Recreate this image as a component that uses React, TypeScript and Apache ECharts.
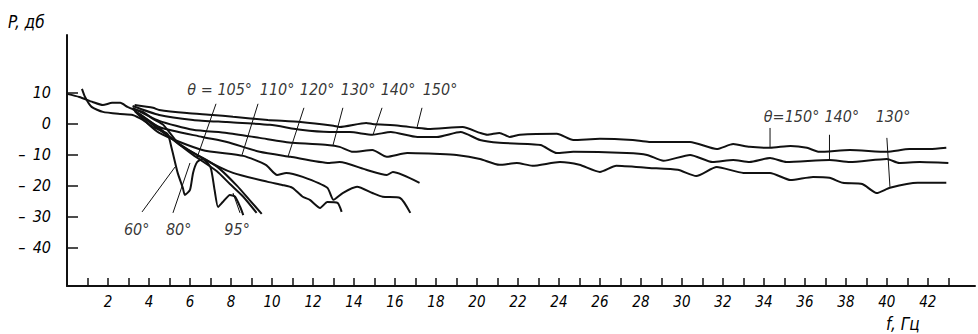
import React, { useEffect, useRef } from "react";
import * as echarts from "echarts";

// ---- axis ticks / labels ----
const xTickValues = [1, 2, 3, 4, 5, 6, 7, 8, 9, 10, 11, 12, 13, 14, 15, 16, 17, 18, 19, 20, 21, 22, 23, 24, 25, 26, 27, 28, 29, 30, 31, 32, 33, 34, 35, 36, 37, 38, 39, 40, 41, 42, 43];
const xLabelValues = [2, 4, 6, 8, 10, 12, 14, 16, 18, 20, 22, 24, 26, 28, 30, 32, 34, 36, 38, 40, 42];
const yTickValues = [-40, -30, -20, -10, 0, 10];

// ---- curves: [f (Hz), P (dB)] ----
const c150 = [[3.3, 6.1], [4.2, 5.2], [4.5, 4.5], [5.85, 3.5], [7.1, 2.9], [8.1, 2.3], [9.8, 1.3], [11.4, 0.6], [13.0, -0.6], [13.3, -1.0], [14.6, 0.3], [14.9, 0], [16.2, -0.6], [17.1, -1.3], [17.6, -1.6], [19.3, -1.0], [20.15, -2.9], [20.5, -3.5], [21.1, -2.9], [21.6, -4.2], [22.1, -3.5], [23.9, -3.2], [24.7, -5.2], [26.0, -4.8], [27.6, -5.2], [28.4, -5.8], [30.4, -5.8], [31.7, -8.1], [32.5, -6.5], [33.3, -7.4], [34.3, -7.7], [35.3, -7.1], [36.1, -7.7], [36.7, -9.0], [38.2, -8.4], [40.0, -9.0], [41.1, -8.1], [42.1, -8.1], [42.9, -7.7]];
const c140 = [[3.2, 5.8], [4.5, 2.9], [6.15, 1.3], [7.8, 0.6], [9.9, -0.3], [11.4, -1.9], [12.8, -2.6], [13.8, -2.6], [14.9, -3.5], [15.8, -2.6], [17.1, -4.2], [18.05, -4.2], [19.2, -2.6], [20.15, -5.2], [21.1, -6.1], [23.1, -6.8], [23.9, -9.4], [24.7, -9.0], [27.3, -9.4], [28.3, -10.0], [29.1, -11.9], [30.4, -10.0], [31.5, -12.3], [32.5, -11.6], [33.3, -12.3], [34.3, -11.0], [35.1, -12.3], [37.2, -11.6], [38.2, -12.3], [40.0, -11.3], [40.6, -12.6], [41.6, -12.3], [43.0, -12.6]];
const c130 = [[3.2, 5.2], [4.5, 1.0], [6.15, -1.9], [7.8, -2.9], [9.4, -4.5], [11.0, -6.1], [12.7, -6.8], [13.3, -7.4], [13.95, -9.0], [14.9, -8.4], [15.6, -10.6], [16.6, -9.4], [18.2, -9.7], [19.0, -10.0], [20.15, -11.3], [21.1, -13.2], [21.95, -12.6], [22.7, -13.5], [24.05, -12.3], [25.0, -13.2], [26.0, -15.5], [26.8, -13.5], [28.4, -14.2], [29.8, -14.8], [30.7, -16.8], [31.7, -13.9], [33.0, -15.8], [34.3, -15.8], [35.3, -18.1], [36.4, -17.1], [37.2, -17.4], [37.85, -19.0], [38.8, -19.4], [39.5, -22.3], [40.15, -20.6], [41.5, -19.0], [42.9, -19.0]];
const c120 = [[3.2, 4.8], [4.5, -1.0], [6.6, -4.2], [7.8, -5.8], [9.4, -9.0], [10.9, -10.6], [12.8, -12.6], [13.3, -12.3], [14.6, -14.8], [15.6, -16.5], [15.9, -15.5], [17.2, -19.0]];
const c110 = [[3.3, 4.2], [4.5, -2.9], [6.6, -8.4], [8.6, -10.3], [9.7, -13.2], [10.25, -16.5], [10.7, -15.8], [11.5, -17.1], [12.7, -20.6], [13.0, -24.5], [13.45, -22.3], [14.15, -20.3], [14.9, -22.3], [15.4, -23.5], [16.25, -23.9], [16.75, -28.7]];
const c105 = [[3.45, 3.5], [5.2, -5.2], [6.6, -11.0], [8.1, -15.8], [9.8, -18.7], [10.5, -19.7], [11.0, -20.6], [11.5, -23.5], [11.85, -24.5], [12.35, -27.1], [12.7, -25.2], [13.2, -25.5], [13.4, -28.4]];
const c95 = [[3.55, 3.2], [4.5, -1.3], [5.5, -6.8], [6.8, -11.6], [7.45, -14.5], [8.3, -20.0], [8.9, -24.5], [9.5, -29.0]];
const c80 = [[0, 9.7], [0.6, 8.7], [1.25, 7.1], [1.75, 6.1], [2.2, 6.8], [2.6, 6.8], [2.95, 5.5], [3.2, 4.8], [3.7, 3.9], [4.2, 1.6], [4.7, -0.3], [5.4, -6.1], [6.15, -10.0], [7.3, -15.2], [7.95, -19.4], [8.6, -23.5], [9.25, -28.7]];
const c60 = [[0.73, 11.3], [0.88, 8.7], [1.2, 5.5], [1.75, 3.9], [2.6, 3.2], [3.2, 2.9], [3.7, 1.3], [4.2, -1.0], [4.9, -3.2], [5.1, -7.7], [5.4, -15.8], [5.65, -20.6], [5.75, -22.9], [6.0, -21.3], [6.15, -15.8], [6.35, -12.3], [6.6, -11.3], [7.0, -13.9], [7.2, -21.3], [7.37, -26.8], [7.6, -25.2], [7.95, -22.9], [8.2, -23.5], [8.45, -26.8], [8.6, -29.4]];

// ---- annotations ----
const labelNames = ["θ = 105°", "110°", "120°", "130°", "140°", "150°", "θ=150°", "140°", "130°", "60°", "80°", "95°"];
const labelPos = [[7.45, 11.0], [10.25, 11.0], [12.2, 11.0], [14.2, 11.0], [16.15, 11.0], [18.2, 11.0], [35.35, 2.3], [37.8, 2.3], [40.3, 2.3], [3.4, -34.2], [5.45, -34.2], [8.3, -34.2]];
const leaders = [
  [[7.27, 6.5], [6.34, -11.0]],
  [[9.32, 6.5], [8.54, -10.0]],
  [[11.56, 5.2], [10.78, -10.6]],
  [[13.46, 5.2], [12.98, -6.8]],
  [[15.37, 5.2], [14.93, -3.5]],
  [[17.32, 5.2], [17.07, -1.3]],
  [[34.3, -1.3], [34.3, -7.7]],
  [[37.2, -3.5], [37.2, -11.6]],
  [[40.0, -4.5], [40.15, -20.3]],
  [[3.66, -28.4], [5.27, -13.9]],
  [[5.17, -28.7], [6.0, -12.6]],
  [[8.44, -28.7], [8.1, -22.3]],
];

const FONT = '"Liberation Sans Narrow", "DejaVu Sans Condensed", "Liberation Sans", sans-serif';
const INK = "#111111";

export default function App() {
  const ref = useRef<HTMLDivElement>(null);
  useEffect(() => {
    if (!ref.current) return;
    const chart = echarts.init(ref.current, undefined, { renderer: "svg" });
    const curves = [c150, c140, c130, c120, c110, c105, c95, c80, c60];
    const curveNames = ["150°", "140°", "130°", "120°", "110°", "105°", "95°", "80°", "60°"];
    const series: any[] = curves.map((d, i) => ({
      type: "line",
      name: curveNames[i],
      data: d,
      symbol: "none",
      smooth: 0.2,
      silent: true,
      lineStyle: { color: INK, width: 2 },
      z: 3,
    }));
    leaders.forEach((d) => {
      series.push({
        type: "line",
        data: d,
        symbol: "none",
        silent: true,
        lineStyle: { color: INK, width: 1 },
        z: 2,
      });
    });
    series.push({
      type: "scatter",
      symbolSize: 0,
      silent: true,
      data: labelNames.map((n, i) => ({ name: n, value: labelPos[i] })),
      label: {
        show: true,
        position: "inside",
        formatter: "{b}",
        color: "#000",
        fontFamily: FONT,
        fontStyle: "italic",
        fontSize: 16,
      },
      z: 4,
    });
    chart.setOption({
      animation: false,
      backgroundColor: "#ffffff",
      grid: { left: 67, right: 3, top: 35, bottom: 48, containLabel: false },
      xAxis: {
        type: "value",
        min: 0,
        max: 44.3,
        splitLine: { show: false },
        axisLine: { show: true, onZero: false, lineStyle: { color: INK, width: 2 } },
        axisTick: { show: true, inside: true, length: 8, customValues: xTickValues, lineStyle: { color: INK, width: 1.5 } },
        axisLabel: {
          customValues: xLabelValues,
          color: "#000",
          fontFamily: FONT,
          fontStyle: "italic",
          fontSize: 15,
          margin: 8,
        },
      },
      yAxis: {
        type: "value",
        min: -52.3,
        max: 28.7,
        splitLine: { show: false },
        axisLine: { show: true, onZero: false, lineStyle: { color: INK, width: 2 } },
        axisTick: { show: true, inside: true, length: 11, customValues: yTickValues, lineStyle: { color: INK, width: 1.5 } },
        axisLabel: {
          customValues: yTickValues,
          color: "#000",
          fontFamily: FONT,
          fontStyle: "italic",
          fontSize: 16,
          margin: 16,
          formatter: (v: number) => (v < 0 ? "–\u2002" + Math.abs(v) : String(v)),
        },
      },
      graphic: [
        { type: "text", left: 8, top: 13, style: { text: "P, дб", fill: "#000", font: `italic 17px ${FONT}` } },
        { type: "text", left: 886, top: 315, style: { text: "f, Гц", fill: "#000", font: `italic 17px ${FONT}` } },
      ],
      series,
    });
    return () => chart.dispose();
  }, []);
  return <div ref={ref} style={{ position: "fixed", left: 0, top: 0, width: 978, height: 334, background: "#fff" }} />;
}
